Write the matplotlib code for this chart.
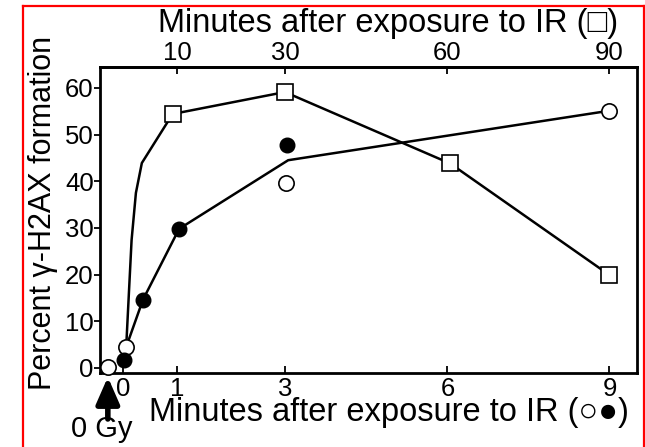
#!/usr/bin/env python3
# gamma-H2AX formation after IR, two time scales (bottom: circles, top: squares)

import matplotlib
matplotlib.use("Agg")
import matplotlib.pyplot as plt
from matplotlib.lines import Line2D

plt.rcParams['font.family'] = ['Liberation Sans', 'DejaVu Sans']

# bottom axis series (minutes, circles)
open_x = [-0.29, 0.05, 3.01, 9.0]
open_y = [0.2, 4.5, 39.7, 55.1]
filled_x = [0.01, 0.36, 1.03, 3.03]
filled_y = [1.7, 14.6, 29.8, 47.8]
circle_line_x = [0.05, 0.36, 1.03, 3.05, 9.0]
circle_line_y = [4.5, 14.6, 29.8, 44.5, 55.1]

# top axis series (minutes, squares); first points trace the steep rise
square_line_min = [0.5, 1.0, 1.5, 2.3, 3.4, 9.1, 29.9, 60.5, 90.0]
square_line_y = [4.5, 16.0, 27.4, 37.5, 43.9, 54.4, 59.1, 43.8, 19.9]
square_min = [9.1, 29.9, 60.5, 90.0]
square_y = [54.4, 59.1, 43.8, 19.9]

bottom_ticks = [0, 1, 3, 6, 9]
top_ticks = [10, 30, 60, 90]
y_ticks = [0, 10, 20, 30, 40, 50, 60]

W, H = 645, 447
fig = plt.figure(figsize=(W / 100, H / 100), dpi=100)
ax = fig.add_axes([100 / W, 1 - 373.3 / H, 537 / W, 306 / H])

ax.plot([m / 10 for m in square_line_min], square_line_y, color='black', lw=1.8, zorder=2)
ax.plot(circle_line_x, circle_line_y, color='black', lw=1.8, zorder=2)
ax.plot([m / 10 for m in square_min], square_y, 's', ms=11, mfc='white', mec='black',
        mew=1.2, zorder=3, clip_on=False)
ax.plot(open_x, open_y, 'o', ms=11, mfc='white', mec='black', mew=1.2, zorder=3, clip_on=False)
ax.plot(filled_x, filled_y, 'o', ms=10.5, mfc='black', mec='black', zorder=4, clip_on=False)

ax.set_xlim(-0.435, 9.51)
ax.set_ylim(-1.14, 64.4)
ax.set_xticks(bottom_ticks)
ax.set_yticks(y_ticks)
for s in ax.spines.values():
    s.set_linewidth(2.0)
ax.tick_params(axis='x', direction='in', length=5, width=1.3, pad=3, labelsize=18.5)
ax.tick_params(axis='y', direction='out', length=4, width=1.3, pad=0.5, labelsize=18.5)

sec = ax.secondary_xaxis('top', functions=(lambda x: x * 10, lambda x: x / 10))
sec.set_xticks(top_ticks)
sec.tick_params(axis='x', direction='in', length=5, width=1.3, pad=1.5, labelsize=18.5)
sec.spines['top'].set_linewidth(2.0)

fig.text(388 / W, 1 - 32 / H, 'Minutes after exposure to IR (□)', fontsize=23.5,
         ha='center', va='baseline')
fig.text(389 / W, 1 - 421 / H, 'Minutes after exposure to IR (○●)', fontsize=23.5,
         ha='center', va='baseline')
fig.text(43 / W, 1 - 213 / H, 'Percent γ-H2AX formation', fontsize=22,
         ha='center', va='center', rotation=90)
fig.text(102 / W, 1 - 437 / H, '0 Gy', fontsize=21, ha='center', va='baseline')

ax.annotate('', xy=(-0.29, 1 - 377 / H), xytext=(-0.29, 1 - 419 / H),
            xycoords=('data', 'figure fraction'), textcoords=('data', 'figure fraction'),
            arrowprops=dict(arrowstyle='-|>,head_length=0.8,head_width=0.35',
                            lw=4, color='black', mutation_scale=20, shrinkA=0, shrinkB=0),
            annotation_clip=False)

# red frame around the panel
red = dict(color='red', lw=1.6, transform=fig.transFigure)
fig.add_artist(Line2D([22.5 / W, 22.5 / W], [0, 1 - 5.5 / H], **red))
fig.add_artist(Line2D([22.5 / W, 643.5 / W], [1 - 5.5 / H, 1 - 5.5 / H], **red))
fig.add_artist(Line2D([643.5 / W, 643.5 / W], [0, 1 - 5.5 / H], **red))

fig.savefig('out.png', dpi=100)
